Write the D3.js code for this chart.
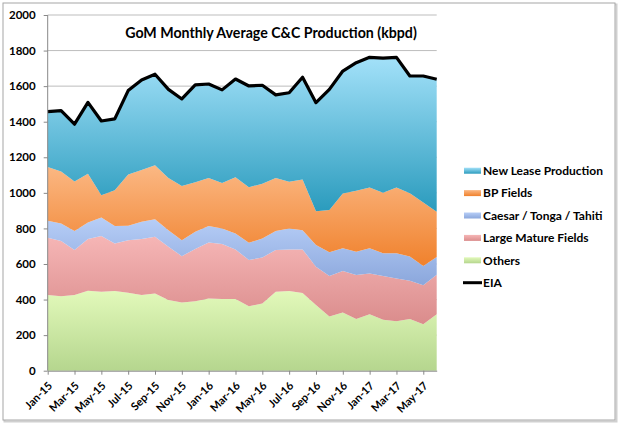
<!DOCTYPE html>
<html><head><meta charset="utf-8">
<script src="https://cdn.jsdelivr.net/npm/d3@7/dist/d3.min.js"></script>
<style>
body{margin:0;background:#fff}
svg{display:block}
text{font-family:Lato,"Open Sans",sans-serif;font-weight:bold;fill:#000}
</style>
</head><body>
<svg id="chart" width="622" height="427"></svg>
<script>
const months = ["Jan-15","Feb-15","Mar-15","Apr-15","May-15","Jun-15","Jul-15","Aug-15","Sep-15","Oct-15","Nov-15","Dec-15",
  "Jan-16","Feb-16","Mar-16","Apr-16","May-16","Jun-16","Jul-16","Aug-16","Sep-16","Oct-16","Nov-16","Dec-16",
  "Jan-17","Feb-17","Mar-17","Apr-17","May-17","Jun-17"];
const xTickLabels = ["Jan-15","Mar-15","May-15","Jul-15","Sep-15","Nov-15","Jan-16","Mar-16","May-16","Jul-16","Sep-16","Nov-16","Jan-17","Mar-17","May-17"];
const yTickValues = [0,200,400,600,800,1000,1200,1400,1600,1800,2000];

const others  = [425,419,425,449,444,448,438,425,434,397,384,391,406,403,403,363,378,444,448,437,370,305,327,290,317,286,278,290,261,318];
const largeMature = [322,310,253,291,314,267,296,315,319,300,260,293,315,309,279,259,259,234,234,245,215,227,234,248,230,246,240,216,220,222];
const caesar  = [96,99,107,93,103,98,81,97,99,93,90,97,92,88,90,97,106,107,118,108,122,134,127,131,141,128,142,136,107,100];
const bpFields = [302,292,279,274,126,202,288,292,303,293,304,279,270,255,316,313,308,298,262,285,190,237,309,343,342,341,370,356,358,254];
const newLease = [312,342,322,402,417,401,472,506,512,499,490,547,529,524,552,569,554,468,501,575,610,679,688,720,732,756,732,659,711,745];
const eia = [1457,1462,1386,1509,1404,1416,1575,1635,1667,1582,1528,1607,1612,1579,1640,1601,1605,1551,1563,1650,1507,1582,1685,1732,1762,1757,1762,1657,1657,1639];

const seriesNames = ["New Lease Production","BP Fields","Caesar / Tonga / Tahiti","Large Mature Fields","Others"];
const keys = ["others","largeMature","caesar","bpFields","newLease"];
const colors = {
  newLease:   ["#a3e1f9","#2a9bbd"],
  bpFields:   ["#fbb884","#f0812c"],
  caesar:     ["#b7cef7","#8ba7dc"],
  largeMature:["#f6b6b6","#da8c8c"],
  others:     ["#e2f9ba","#b5d68e"]
};
const legendKeys = ["newLease","bpFields","caesar","largeMature","others"];

const rows = months.map((m,i)=>({month:m, others:others[i], largeMature:largeMature[i], caesar:caesar[i], bpFields:bpFields[i], newLease:newLease[i], eia:eia[i]}));

const svg = d3.select("#chart");
const L = 47.7, R = 436.7, T = 15, B = 370.7;

const defs = svg.append("defs");
svg.append("rect").attr("x",4.5).attr("y",4.5).attr("width",612).attr("height",417).attr("fill","none").attr("stroke","#d0d0d0").attr("stroke-width",2);
svg.append("rect").attr("x",3).attr("y",3).attr("width",612).attr("height",417).attr("fill","#fff").attr("stroke","#a6a6a6").attr("stroke-width",1);

const x = d3.scalePoint().domain(months).range([L,R]);
const y = d3.scaleLinear().domain([0,2000]).range([B,T]);

keys.forEach(k=>{
  const g = defs.append("linearGradient").attr("id","g_"+k).attr("x1",0).attr("y1",0).attr("x2",0).attr("y2",1);
  g.append("stop").attr("offset","0%").attr("stop-color",colors[k][0]);
  g.append("stop").attr("offset","100%").attr("stop-color",colors[k][1]);
});

svg.append("g").selectAll("line").data(yTickValues.filter(v=>v>0)).join("line")
  .attr("x1",L).attr("x2",R).attr("y1",d=>y(d)).attr("y2",d=>y(d))
  .attr("stroke","#bdbdbd").attr("stroke-width",1);

const stacked = d3.stack().keys(keys)(rows);
const area = d3.area().x(d=>x(d.data.month)).y0(d=>y(d[0])).y1(d=>y(d[1]));
svg.append("g").selectAll("path").data(stacked).join("path")
  .attr("d",area).attr("fill",d=>"url(#g_"+d.key+")");

const line = d3.line().x(d=>x(d.month)).y(d=>y(d.eia));
svg.append("path").datum(rows).attr("d",line).attr("fill","none").attr("stroke","#000").attr("stroke-width",3.2).attr("stroke-linejoin","round");

const yAxis = svg.append("g").attr("transform",`translate(${L},0)`)
  .call(d3.axisLeft(y).tickValues(yTickValues).tickFormat(d3.format("d")).tickSize(4).tickSizeOuter(0).tickPadding(8));
yAxis.selectAll("path,line").attr("stroke","#888");
yAxis.selectAll("text").style("font-size","11.5px").style("font-weight","bold").attr("fill","#000");
yAxis.select(".domain").attr("d",`M0,${B}V${T}`);

const xAxis = svg.append("g").attr("transform",`translate(0,${B})`)
  .call(d3.axisBottom(x).tickValues(xTickLabels).tickSize(4).tickSizeOuter(0));
xAxis.selectAll("path,line").attr("stroke","#888");
xAxis.selectAll("text").style("font-size","11px").style("font-weight","bold").attr("fill","#000")
  .attr("text-anchor","end").attr("x",0).attr("y",0).attr("dy","0.35em")
  .attr("transform","translate(2,13) rotate(-45)");

svg.append("text").attr("x",271).attr("y",37.5).attr("text-anchor","middle")
  .style("font-size","14.2px").text("GoM Monthly Average C&C Production (kbpd)");

const lg = svg.append("g");
const ly0 = 170.7, ldy = 22.4;
legendKeys.forEach((k,i)=>{
  const yy = ly0 + i*ldy;
  lg.append("rect").attr("x",464).attr("y",yy-3).attr("width",17).attr("height",6).attr("fill","url(#g_"+k+")");
  lg.append("text").attr("x",483).attr("y",yy).attr("dy","0.35em").style("font-size","12px").text(seriesNames[i]);
});
const ye = ly0 + 5*ldy;
lg.append("line").attr("x1",463).attr("x2",482).attr("y1",ye).attr("y2",ye).attr("stroke","#000").attr("stroke-width",3);
lg.append("text").attr("x",483).attr("y",ye).attr("dy","0.35em").style("font-size","12px").text("EIA");
</script>
</body></html>
